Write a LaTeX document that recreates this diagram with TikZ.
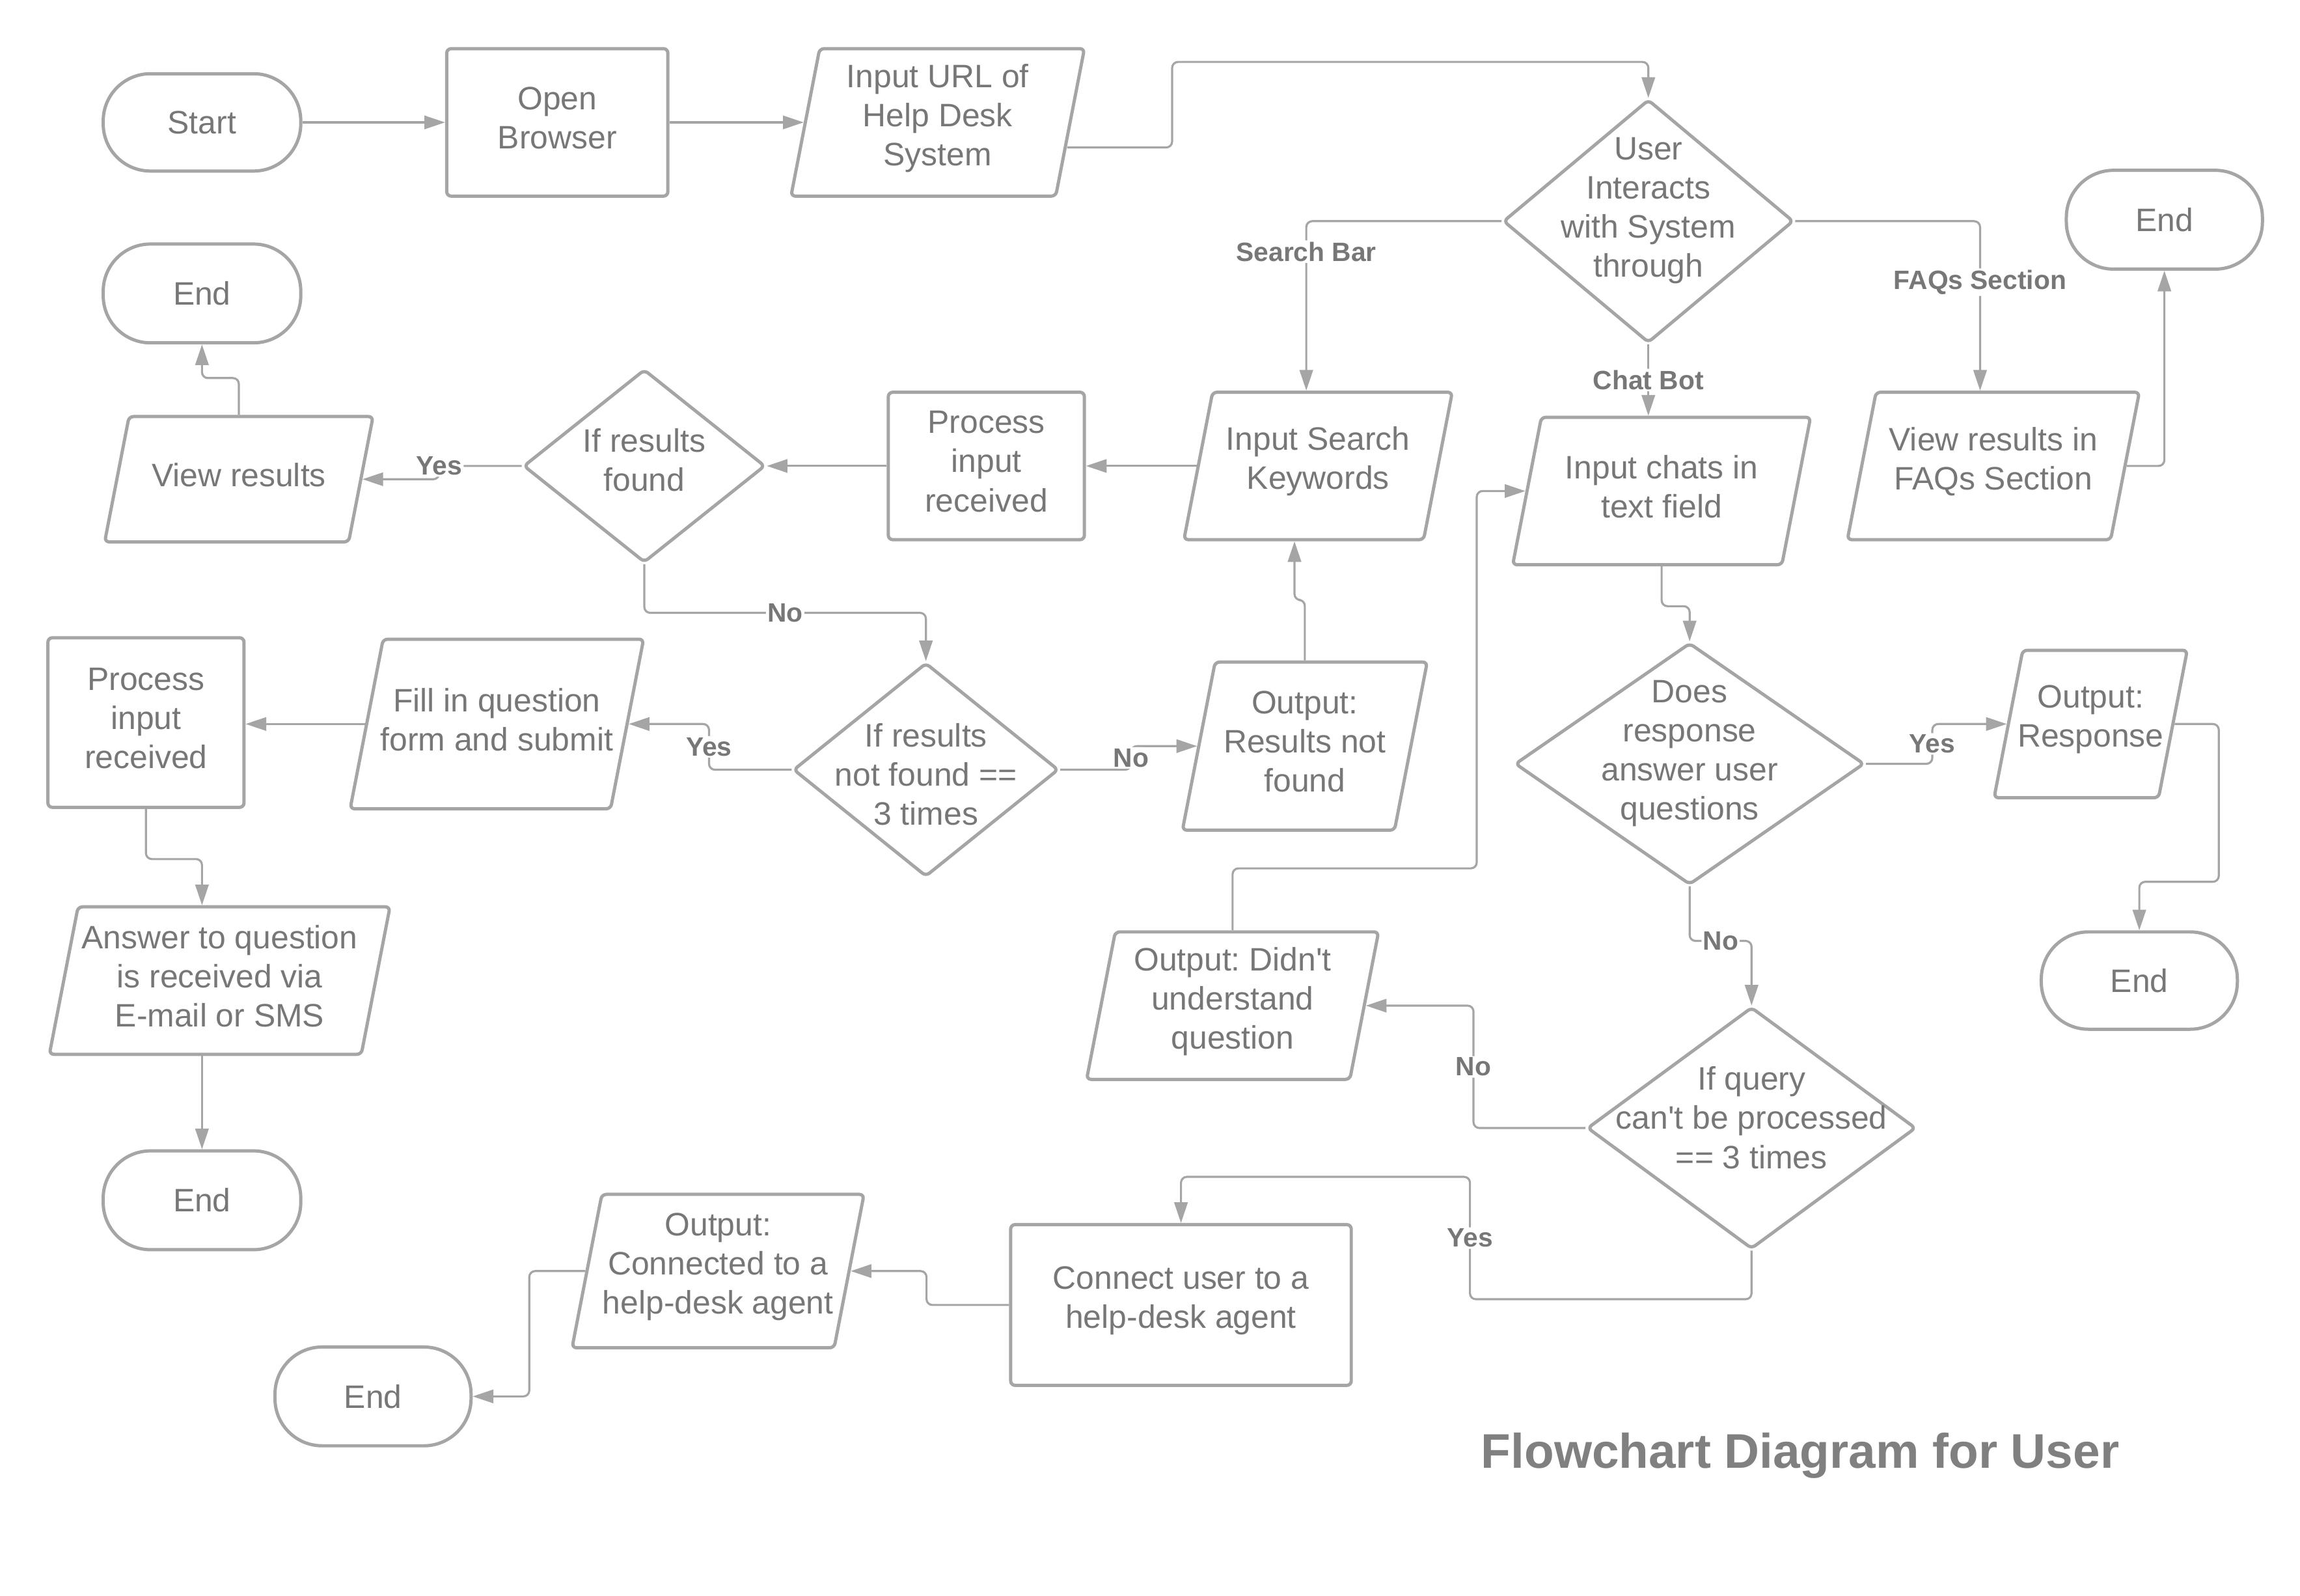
\documentclass[tikz,border=0pt]{standalone}
\usepackage{fontspec}
\setmainfont{Liberation Sans}[Ligatures=TeXOff]
\usepackage{tikz}
\usetikzlibrary{arrows.meta}
\usetikzlibrary{positioning}
\usetikzlibrary{shapes.geometric}
\definecolor{edgegray}{RGB}{165,165,165}
\definecolor{txtgray}{RGB}{119,119,119}
\tikzstyle{term}=[draw=edgegray,line width=2.2pt,rectangle,rounded corners=32pt,minimum width=134pt,minimum height=66pt,inner sep=0pt,text=txtgray,font=\fontsize{22}{26.5}\selectfont]
\tikzstyle{proc}=[draw=edgegray,line width=2.2pt,rectangle,rounded corners=3pt,inner sep=0pt]
\tikzstyle{io}=[draw=edgegray,line width=2.2pt,trapezium,trapezium left angle=79,trapezium right angle=101,trapezium stretches body=true,rounded corners=3pt,inner xsep=0pt]
\tikzstyle{dec}=[draw=edgegray,line width=2.2pt,diamond,rounded corners=3pt,inner sep=0pt]
\tikzstyle{txt}=[align=center,text=txtgray,font=\fontsize{22}{26.5}\selectfont,yshift=3pt]
\tikzstyle{dtxt}=[txt,yshift=4pt]
\tikzstyle{conn}=[draw=edgegray,line width=1.4pt,rounded corners=4pt,-{Triangle[length=14pt,width=9pt]}]
\tikzstyle{lbl}=[fill=white,inner sep=1pt,text=txtgray,font=\fontsize{18}{20}\selectfont\bfseries]
\tikzstyle{ttl}=[text={rgb,255:red,128;green,128;blue,128},font=\fontsize{33}{36}\selectfont\bfseries]
\begin{document}
\frenchspacing
\begin{tikzpicture}[x=1pt,y=-1pt]
\fill[white] (0,0) rectangle (1560,1082);
\useasboundingbox (0,0) rectangle (1560,1082);
% top row
\node[term] (start) at (137,83) {Start};
\node[proc,minimum width=150pt,minimum height=100pt,label={[txt]center:{Open\\Browser}}] (ob) at (378,83) {};
\node[io,minimum width=199pt,inner ysep=50pt,label={[txt]center:{Input URL of\\Help Desk\\System}}] (url) at (636,83) {};
\node[dec,minimum width=197pt,minimum height=165pt,label={[dtxt]center:{User\\Interacts\\with System\\through}}] (ui) at (1118,150) {};
\node[term,minimum width=133pt,minimum height=67pt] (e1) at (1468,149) {End};
% search bar branch
\node[io,minimum width=182pt,inner ysep=50pt,label={[txt]center:{Input Search\\Keywords}}] (isk) at (894,316) {};
\node[proc,minimum width=133pt,minimum height=100pt,label={[txt]center:{Process\\input\\received}}] (pr1) at (669,316) {};
\node[dec,minimum width=164pt,minimum height=131pt,label={[txt,yshift=1pt]center:{If results\\found}}] (rf) at (437,316) {};
\node[io,minimum width=182pt,inner ysep=42.5pt,label={[txt]center:{View results}}] (vr) at (162,325) {};
\node[term,minimum height=67pt] (e2) at (137,199) {End};
\node[dec,minimum width=180pt,minimum height=145pt,label={[txt,yshift=-6pt]center:{If results\\not found ==\\3 times}}] (rn) at (628,522) {};
\node[io,minimum width=166pt,inner ysep=57pt,label={[txt]center:{Output:\\Results not\\found}}] (ors) at (885,506) {};
\node[io,minimum width=199pt,inner ysep=57.5pt,label={[txt]center:{Fill in question\\form and submit}}] (fl) at (337,491) {};
\node[proc,minimum width=133pt,minimum height=115pt,label={[txt]center:{Process\\input\\received}}] (pr2) at (99,490) {};
\node[io,minimum width=231pt,inner ysep=50pt,label={[txt]center:{Answer to question\\is received via\\E-mail or SMS}}] (ans) at (149,665) {};
\node[term,minimum height=67pt] (e3) at (137,814) {End};
% faq branch
\node[io,minimum width=198pt,inner ysep=50pt,label={[txt]center:{View results in\\FAQs Section}}] (fq) at (1352,316) {};
% chat bot branch
\node[io,minimum width=202pt,inner ysep=50pt,label={[txt]center:{Input chats in\\text field}}] (ic) at (1127,333) {};
\node[dec,minimum width=237pt,minimum height=164pt,label={[dtxt]center:{Does\\response\\answer user\\questions}}] (dr) at (1146,518) {};
\node[io,minimum width=131pt,inner ysep=50pt,label={[txt]center:{Output:\\Response}}] (ores) at (1418,491) {};
\node[term,minimum width=133pt] (e4) at (1451,665) {End};
\node[dec,minimum width=223pt,minimum height=164pt,label={[dtxt]center:{If query\\can't be processed\\== 3 times}}] (iq) at (1188,765) {};
\node[io,minimum width=198pt,inner ysep=50pt,label={[txt]center:{Output: Didn't\\understand\\question}}] (od) at (836,682) {};
\node[proc,minimum width=231pt,minimum height=109pt,label={[txt]center:{Connect user to a\\help-desk agent}}] (cu) at (801,885) {};
\node[io,minimum width=198pt,inner ysep=52pt,label={[txt]center:{Output:\\Connected to a\\help-desk agent}}] (oc) at (487,862) {};
\node[term,minimum width=133pt,minimum height=67pt] (e5) at (253,947) {End};
\node[ttl] (title) at (1221,987) {Flowchart Diagram for User};
% connectors
\draw[conn] (start.east) -- (start.east -| ob.west);
\draw[conn] (ob.east |- url.west) -- (url.west);
\draw[conn] ([xshift=-3pt,yshift=-17pt]url.east) -| (795,42) -| (ui.north);
\draw[conn] (ui.west) -| node[lbl,pos=0.59]{Search Bar} ([xshift=-8pt]isk.north);
\draw[conn] (ui.south) -- node[lbl]{Chat Bot} (ui.south |- ic.north);
\draw[conn] (ui.east) -| node[lbl,pos=0.68]{FAQs Section} ([xshift=-9pt]fq.north);
\draw[conn] (fq.east) -| (e1.south);
\draw[conn] (isk.west) -- (pr1.east);
\draw[conn] (pr1.west) -- (rf.east);
\draw[conn] (rf.west) -- ++(-56,0) node[lbl]{Yes} |- (vr.east);
\draw[conn] (vr.north) -- ++(0,-25) -| (e2.south);
\draw[conn] (rf.south) -- ++(0,33) -| node[lbl,pos=0.25]{No} (rn.north);
\draw[conn] (rn.east) -- ++(48,0) |- node[lbl,pos=0.25]{No} (ors.west);
\draw[conn] (ors.north) -- ++(0,-41) -| ([xshift=-16pt]isk.south);
\draw[conn] (rn.west) -- ++(-56,0) |- node[lbl,pos=0.25]{Yes} (fl.east);
\draw[conn] (fl.west) -- (fl.west -| pr2.east);
\draw[conn] (pr2.south) -- ++(0,34) -| ([xshift=-12pt]ans.north);
\draw[conn] (ans.south -| e3.north) -- (e3.north);
\draw[conn] (ic.south) -- ++(0,27) -| (dr.north);
\draw[conn] (dr.east) -- ++(45,0) |- node[lbl,pos=0.25]{Yes} (ores.west);
\draw[conn] (ores.east) -| ++(30,107) -| (e4.north);
\draw[conn] (dr.south) -- ++(0,37) -| node[lbl,pos=0.25]{No} (iq.north);
\draw[conn] (iq.west) -- ++(-76,0) |- node[lbl,pos=0.25]{No} (od.east);
\draw[conn] (od.north) -- ++(0,-42) -| ([xshift=-33pt]ic.west) -- (ic.west);
\draw[conn] (iq.south) -- ++(0,33) -| node[lbl,pos=0.75]{Yes} ++(-191,-83) -| (cu.north);
\draw[conn] (cu.west) -- ++(-56,0) |- (oc.east);
\draw[conn] (oc.west) -- ++(-38,0) |- (e5.east);
\end{tikzpicture}
\end{document}
